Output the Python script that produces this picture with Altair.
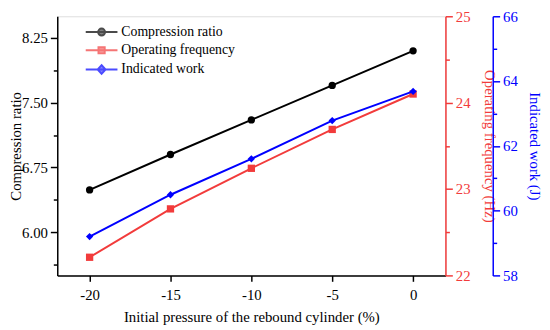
import altair as alt
import pandas as pd

pressure = [-20, -15, -10, -5, 0]
compression_ratio = [6.49, 6.90, 7.30, 7.70, 8.10]
operating_frequency = [22.21, 22.77, 23.24, 23.69, 24.10]
indicated_work = [59.20, 60.49, 61.60, 62.78, 63.68]

series_names = ["Compression ratio", "Operating frequency", "Indicated work"]
series_colors = ["#000000", "#f23b3b", "#0000ff"]

x_ticks = [-20, -15, -10, -5, 0]
cr_ticks = [6.00, 6.75, 7.50, 8.25]
cr_minor = [5.625, 6.375, 7.125, 7.875]
freq_ticks = [22, 23, 24, 25]
freq_minor = [22.5, 23.5, 24.5]
work_ticks = [58, 60, 62, 64, 66]
work_minor = [59, 61, 63, 65]

FONT = "Liberation Serif"

df = pd.DataFrame({
    "pressure": pressure,
    "cr": compression_ratio,
    "freq": operating_frequency,
    "work": indicated_work,
})
leg_df = pd.DataFrame({"series": series_names})

x_enc = alt.X(
    "pressure:Q",
    scale=alt.Scale(domain=[-22, 2], nice=False, zero=False),
    axis=alt.Axis(
        values=x_ticks, title="Initial pressure of the rebound cylinder (%)",
        labelExpr="datum.value < 0 ? '-' + abs(datum.value) : '' + datum.value",
        grid=False, tickSize=6, labelPadding=6, titlePadding=8,
        domainColor="#000000", tickColor="#000000", domainWidth=1.5, tickWidth=1.5,
        labelFont=FONT, labelFontSize=15, titleFont=FONT, titleFontSize=15,
        titleFontWeight="normal", labelColor="#000000", titleColor="#000000",
    ),
)


def series_group(field, color, shape, domain, ticks, minor, orient, offset, title, fmt, title_pad, title_x=None):
    base = alt.Chart(df)
    scale = alt.Scale(domain=domain, nice=False, zero=False)
    axis_kw = dict(
        orient=orient, offset=offset, values=ticks, format=fmt, title=title,
        grid=False, tickSize=7, tickWidth=1.5, domainWidth=1.5,
        domainColor=color, tickColor=color, labelColor=color, titleColor=color,
        labelFont=FONT, labelFontSize=15, titleFont=FONT, titleFontSize=15,
        titleFontWeight="normal", labelPadding=3, titlePadding=title_pad,
    )
    if title_x is not None:
        axis_kw["titleX"] = title_x
    y_main = alt.Y(f"{field}:Q", scale=scale, axis=alt.Axis(**axis_kw))
    line = base.mark_line(
        color=color, strokeWidth=2,
        point=alt.OverlayMarkDef(shape=shape, filled=True, size=55, color=color),
    ).encode(x=x_enc, y=y_main)
    y_minor = alt.Y(
        f"{field}:Q", scale=scale,
        axis=alt.Axis(
            orient=orient, offset=offset, values=minor, labels=False, title=None,
            domain=False, grid=False, tickSize=4, tickWidth=1.5, tickColor=color,
        ),
    )
    minor_layer = base.mark_point(opacity=0).encode(x=x_enc, y=y_minor)
    return alt.layer(line, minor_layer).resolve_axis(y="independent")


black = series_group("cr", series_colors[0], "circle", [5.5, 8.5], cr_ticks, cr_minor,
                     "left", 0, "Compression ratio", ".2f", 4, -34)
red = series_group("freq", series_colors[1], "square", [22, 25], freq_ticks, freq_minor,
                   "right", 0, "Operating frequency (Hz)", "d", 12)
blue = series_group("work", series_colors[2], "diamond", [58, 66], work_ticks, work_minor,
                    "right", 48, "Indicated work (J)", "d", 9)

legend_paths = [
    "M-4.6,0L4.6,0M-1,0A1,1,0,1,1,1,0A1,1,0,1,1,-1,0Z",
    "M-4.6,0L4.6,0M-0.9,-0.9H0.9V0.9H-0.9Z",
    "M-4.6,0L4.6,0M0,-1.25L1.15,0L0,1.25L-1.15,0Z",
]
leg = alt.Legend(
    title=None, orient="none", legendX=38, legendY=9,
    labelFont=FONT, labelFontSize=14, labelColor="#000000",
    symbolSize=49, symbolStrokeWidth=2, labelOffset=13, rowPadding=2.5, padding=0,
)
legend_layer = alt.Chart(leg_df).transform_filter("false").mark_point(filled=True).encode(
    fill=alt.Fill("series:N", scale=alt.Scale(domain=series_names, range=series_colors), legend=leg),
    stroke=alt.Stroke("series:N", scale=alt.Scale(domain=series_names, range=series_colors), legend=leg),
    shape=alt.Shape("series:N", scale=alt.Scale(domain=series_names, range=legend_paths), legend=leg),
)

chart = alt.layer(black, red, blue, legend_layer).resolve_scale(y="independent").properties(
    width=394, height=263,
    autosize=alt.AutoSizeParams(type="none"),
    padding={"left": 50, "top": 6, "right": 98, "bottom": 52},
).configure_view(stroke="#000000", strokeWidth=1.5).configure(background="white")

chart.save("out.html", embed_options={"renderer": "svg", "actions": False})
